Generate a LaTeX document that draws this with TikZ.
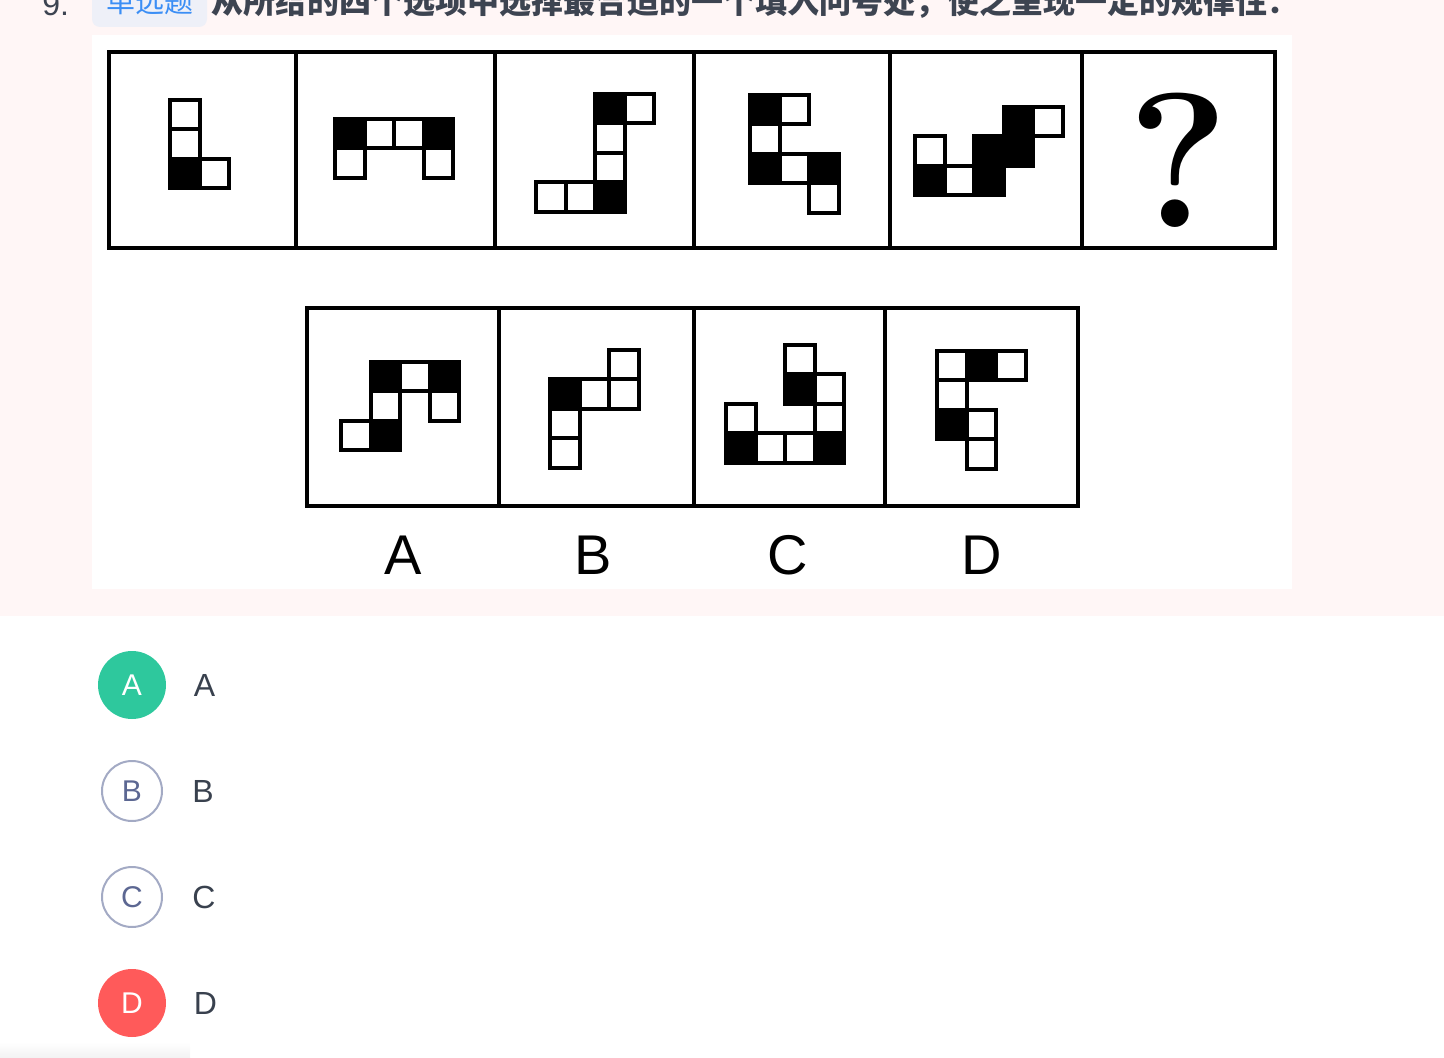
\documentclass[tikz,border=0pt]{standalone}
\usepackage{fontspec}
\usetikzlibrary{positioning}
\newfontfamily\sansfont{Liberation Sans}
\newfontfamily\cjkfont{Noto Sans CJK SC}
\definecolor{pagepink}{HTML}{FFF6F6}
\definecolor{badgebg}{HTML}{EEF0F8}
\definecolor{badgeblue}{HTML}{3B8EF5}
\definecolor{titlegray}{HTML}{3D4451}
\definecolor{pickgreen}{HTML}{2EC89D}
\definecolor{pickred}{HTML}{FF5A5A}
\definecolor{ringgray}{HTML}{A3AAC4}
\definecolor{ringtext}{HTML}{5C6792}
\definecolor{answertext}{HTML}{39414E}
\newcommand{\cellgrid}[3]{%
  \foreach \cx/\cy/\cf in {#3}
    \draw[cell, fill=\cf] ({#1+\cx*29.5},{#2+\cy*29.5}) rectangle ++(29.5,29.5);%
}

\begin{document}
\begin{tikzpicture}[x=0.5pt, y=-0.5pt,
    cell/.style={draw=black, line width=2pt},
    frame/.style={draw=black, line width=2pt},
    optletter/.style={font=\sansfont\fontsize{28}{28}\selectfont, inner sep=0pt},
    pick/.style={circle, minimum size=34pt, inner sep=0pt, font=\sansfont\fontsize{15}{15}\selectfont, text=white},
    ring/.style={circle, draw=ringgray, line width=1pt, minimum size=30pt, inner sep=0pt, font=\sansfont\fontsize{15}{15}\selectfont, text=ringtext},
    answer/.style={font=\sansfont\fontsize{16}{16}\selectfont, text=answertext, inner sep=0pt}
]
\useasboundingbox (0,0) rectangle (1444,1058);

% Backgrounds
\fill[pagepink] (0,0) rectangle (1444,616);
\fill[white] (92,35) rectangle (1292,589);
\shade[top color=white, bottom color=black!5] (0,1042) rectangle (190,1058);

% Question header
\node[font=\sansfont\fontsize{16}{16}\selectfont, text=titlegray, anchor=base west, inner sep=0pt] (qnum) at (42,16) {9.};
\fill[badgebg, rounded corners=4pt] (92,-20) rectangle (207,27);
\node[font=\cjkfont\fontsize{14.5}{14.5}\selectfont, text=badgeblue, anchor=base, inner sep=0pt] (qtype) at (150,13) {单选题};
\node[font=\cjkfont\bfseries\fontsize{16}{16}\selectfont, text=titlegray, anchor=base west, inner sep=0pt] (qtext) at (211,14) {从所给的四个选项中选择最合适的一个填入问号处，使之呈现一定的规律性：};

% Question row
\draw[frame] (108.5,52) rectangle (1275,248.5);
\foreach \dx in {296,494.5,694,890,1082}
  \draw[frame] (\dx,52) -- (\dx,248.5);
\cellgrid{170}{100}{0/0/white,0/1/white,0/2/black,1/2/white}
\cellgrid{335}{119}{0/0/black,1/0/white,2/0/white,3/0/black,0/1/white,3/1/white}
\cellgrid{536}{94}{2/0/black,3/0/white,2/1/white,2/2/white,0/3/white,1/3/white,2/3/black}
\cellgrid{750}{95}{0/0/black,1/0/white,0/1/white,0/2/black,1/2/white,2/2/black,2/3/white}
\cellgrid{915}{107}{3/0/black,4/0/white,0/1/white,2/1/black,3/1/black,0/2/black,1/2/white,2/2/black}
\node[font=\bfseries\fontsize{96}{96}\selectfont, anchor=base, inner sep=0pt] (qmark) at (1178,228) {?};

% Option row
\draw[frame] (307,308.5) rectangle (1078,506);
\foreach \dx in {499,694,885}
  \draw[frame] (\dx,308.5) -- (\dx,506);
\cellgrid{341}{362}{1/0/black,2/0/white,3/0/black,1/1/white,3/1/white,0/2/white,1/2/black}
\cellgrid{550}{350}{2/0/white,0/1/black,1/1/white,2/1/white,0/2/white,0/3/white}
\cellgrid{726}{345}{2/0/white,2/1/black,3/1/white,0/2/white,3/2/white,0/3/black,1/3/white,2/3/white,3/3/black}
\cellgrid{937}{351}{0/0/white,1/0/black,2/0/white,0/1/white,0/2/black,1/2/white,1/3/white}
\node[optletter] (la) at (403.5,555) {A};
\node[optletter] (lb) at (593,555) {B};
\node[optletter] (lc) at (787.5,555) {C};
\node[optletter] (ld) at (981.5,555) {D};

% Answer choices
\node[pick, fill=pickgreen] (ca) at (132,685) {A};
\node[answer, right=13.5pt of ca] (ta) {A};
\node[ring] (cb) at (132,791) {B};
\node[answer, right=14.5pt of cb] (tb) {B};
\node[ring] (cc) at (132,897) {C};
\node[answer, right=14.5pt of cc] (tc) {C};
\node[pick, fill=pickred] (cd) at (132,1003) {D};
\node[answer, right=13.5pt of cd] (td) {D};

\end{tikzpicture}
\end{document}
